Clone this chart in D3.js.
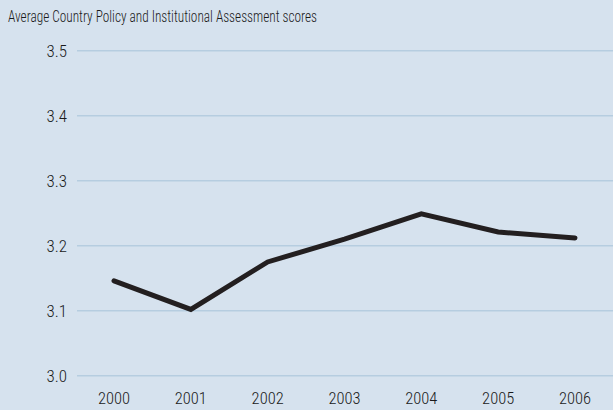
<!DOCTYPE html>
<html>
<head>
<meta charset="utf-8">
<script src="https://cdn.jsdelivr.net/npm/d3@7"></script>
<style>
  body { margin: 0; background: #d6e2ee; }
  svg { display: block; }
  text { font-family: "Roboto Condensed", "Liberation Sans Narrow", "Roboto", sans-serif; font-weight: 300; fill: #1a1a1a; }
</style>
</head>
<body>
<script>
var years = ["2000", "2001", "2002", "2003", "2004", "2005", "2006"];
var scores = [3.146, 3.102, 3.175, 3.210, 3.249, 3.221, 3.212];
var yTicks = [3.0, 3.1, 3.2, 3.3, 3.4, 3.5];
var title = "Average Country Policy and Institutional Assessment scores";

var W = 613, H = 410;

var svg = d3.select("body").append("svg")
  .attr("width", W)
  .attr("height", H);

svg.append("rect").attr("width", W).attr("height", H).attr("fill", "#d6e2ee");

var x = d3.scalePoint().domain(years).range([114, 575]);
var y = d3.scaleLinear().domain([3.0, 3.5]).range([375.7, 50.7]);

// gridlines
svg.append("g").selectAll("line")
  .data(yTicks)
  .enter().append("line")
  .attr("x1", 77)
  .attr("x2", W)
  .attr("y1", function (d) { return y(d); })
  .attr("y2", function (d) { return y(d); })
  .attr("stroke", "#b6cde0")
  .attr("stroke-width", 1.5);

// y labels
svg.append("g").selectAll("text")
  .data(yTicks)
  .enter().append("text")
  .attr("x", 67)
  .attr("y", function (d) { return y(d) + 6.3; })
  .attr("text-anchor", "end")
  .attr("font-size", 17)
  .text(function (d) { return d3.format(".1f")(d); });

// x labels
svg.append("g").selectAll("text")
  .data(years)
  .enter().append("text")
  .attr("x", function (d) { return x(d); })
  .attr("y", 404)
  .attr("text-anchor", "middle")
  .attr("font-size", 16.5)
  .text(function (d) { return d; });

// line
var line = d3.line()
  .x(function (d, i) { return x(years[i]); })
  .y(function (d) { return y(d); });

svg.append("path")
  .datum(scores)
  .attr("d", line)
  .attr("fill", "none")
  .attr("stroke", "#231f20")
  .attr("stroke-width", 5)
  .attr("stroke-linejoin", "miter")
  .attr("stroke-linecap", "round");

// title
svg.append("text")
  .attr("x", 8)
  .attr("y", 21.5)
  .attr("font-size", 16)
  .attr("textLength", 309)
  .attr("lengthAdjust", "spacingAndGlyphs")
  .text(title);
</script>
</body>
</html>
